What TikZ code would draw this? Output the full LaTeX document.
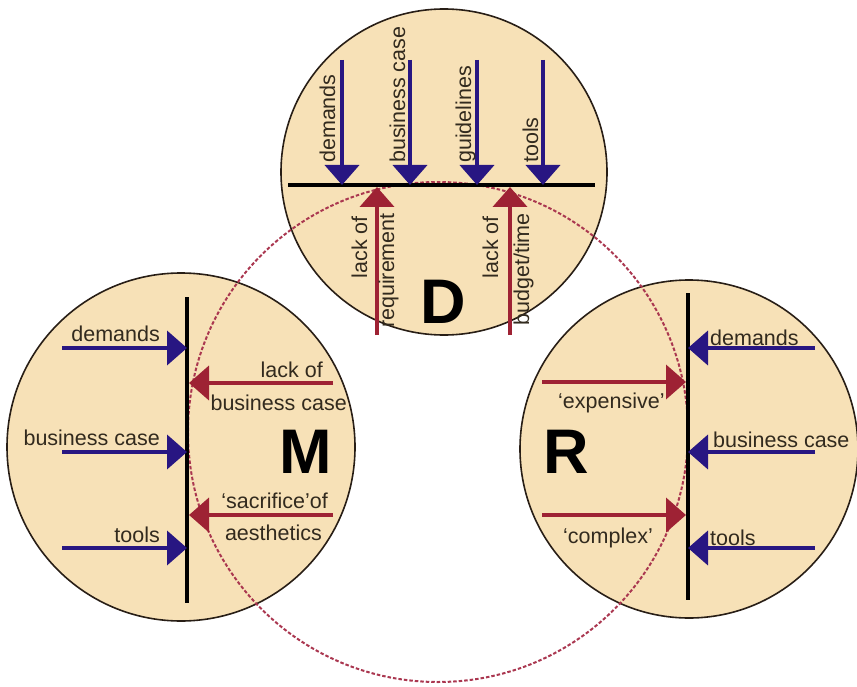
\documentclass[tikz,border=0pt]{standalone}
\usepackage{fontspec}
\setmainfont{Liberation Sans}
\usetikzlibrary{arrows.meta}
\definecolor{disk}{RGB}{247,225,183}
\definecolor{navy}{RGB}{40,22,130}
\definecolor{wine}{RGB}{158,34,52}
\definecolor{dashc}{RGB}{170,55,80}
\definecolor{rim}{RGB}{40,30,22}
\definecolor{ink}{RGB}{50,42,30}
\begin{document}
\begin{tikzpicture}[x=1pt,y=-1pt,
  disc/.style={draw=rim,line width=1.6pt,fill=disk},
  bar/.style={line width=3.3pt,draw=black},
  inarrow/.style={draw=navy,line width=4pt,-{Triangle[width=34pt,length=20pt]}},
  outarrow/.style={draw=wine,line width=4pt,-{Triangle[width=34pt,length=20pt]}},
  lbl/.style={font=\fontsize{21.5}{22}\selectfont,inner sep=0pt,text=ink},
  big/.style={font=\fontsize{63}{63}\selectfont\bfseries,inner sep=0pt,text=black},
  ring/.style={draw=dashc,line width=2pt,dash pattern=on 3.5pt off 2pt}]
\useasboundingbox (0,0) rectangle (857,687);
% circles
\node[disc,circle,minimum size=348pt,inner sep=0pt] (Mc) at (181,447) {};
\node[disc,circle,minimum size=338pt,inner sep=0pt] (Rc) at (689,449) {};
\node[disc,circle,minimum size=326pt,inner sep=0pt] (Dc) at (444,172) {};
\node[ring,circle,minimum size=500pt,inner sep=0pt] (ring) at (438,432) {};
% bars
\coordinate (Dl) at (288,185); \coordinate (Dr) at (595,185);
\coordinate (Mt) at (187,297); \coordinate (Mb) at (187,603);
\coordinate (Rt) at (688,293); \coordinate (Rb) at (688,600);
\draw[bar] (Dl) -- (Dr);
\draw[bar] (Mt) -- (Mb);
\draw[bar] (Rt) -- (Rb);
% D arrows
\foreach \n/\x in {1/342,2/410,3/477,4/543}{
  \coordinate (Ds\n) at (\x,60); \coordinate (De\n) at (\x,185);
  \draw[inarrow] (Ds\n) -- (De\n);}
\foreach \n/\x in {1/377,2/510}{
  \coordinate (Dus\n) at (\x,335); \coordinate (Due\n) at (\x,187);
  \draw[outarrow] (Dus\n) -- (Due\n);}
\node[lbl,rotate=90,anchor=base west] (dl1) at (335,163) {demands};
\node[lbl,rotate=90,anchor=base west] (dl2) at (405,163) {business case};
\node[lbl,rotate=90,anchor=base west] (dl3) at (471,163) {guidelines};
\node[lbl,rotate=90,anchor=base west] (dl4) at (538,163) {tools};
\node[lbl,rotate=90,anchor=base east] (dr1a) at (367,216) {lack of};
\node[lbl,rotate=90,anchor=base east] (dr1b) at (394,213) {requirement};
\node[lbl,rotate=90,anchor=base east] (dr2a) at (498,216) {lack of};
\node[lbl,rotate=90,anchor=base east] (dr2b) at (529,213) {budget/time};
\node[big,anchor=base] (D) at (443,323) {D};
% M arrows
\foreach \n/\y in {1/348,2/452,3/548}{
  \coordinate (Ms\n) at (62,\y); \coordinate (Me\n) at (187,\y);
  \draw[inarrow] (Ms\n) -- (Me\n);}
\foreach \n/\y in {1/383,2/515}{
  \coordinate (Mus\n) at (333,\y); \coordinate (Mue\n) at (189,\y);
  \draw[outarrow] (Mus\n) -- (Mue\n);}
\node[lbl,anchor=base east] (ml1) at (160,341) {demands};
\node[lbl,anchor=base east] (ml2) at (160,445) {business case};
\node[lbl,anchor=base east] (ml3) at (160,542) {tools};
\node[lbl,anchor=base east] (mr1a) at (323,377) {lack of};
\node[lbl,anchor=base east] (mr1b) at (347,410) {business case};
\node[lbl,anchor=base east] (mr2a) at (328,508) {‘sacrifice’of};
\node[lbl,anchor=base east] (mr2b) at (322,540) {aesthetics};
\node[big,anchor=base] (M) at (306,473) {M};
% R arrows
\foreach \n/\y in {1/348,2/452,3/548}{
  \coordinate (Rs\n) at (815,\y); \coordinate (Re\n) at (688,\y);
  \draw[inarrow] (Rs\n) -- (Re\n);}
\foreach \n/\y in {1/382,2/515}{
  \coordinate (Rus\n) at (542,\y); \coordinate (Rue\n) at (686,\y);
  \draw[outarrow] (Rus\n) -- (Rue\n);}
\node[lbl,anchor=base west] (rl1) at (710,345) {demands};
\node[lbl,anchor=base west] (rl2) at (713,447) {business case};
\node[lbl,anchor=base west] (rl3) at (710,545) {tools};
\node[lbl,anchor=base west] (rr1) at (558,408) {‘expensive’};
\node[lbl,anchor=base west] (rr2) at (563,543) {‘complex’};
\node[big,anchor=base] (R) at (566,473) {R};
\end{tikzpicture}
\end{document}
